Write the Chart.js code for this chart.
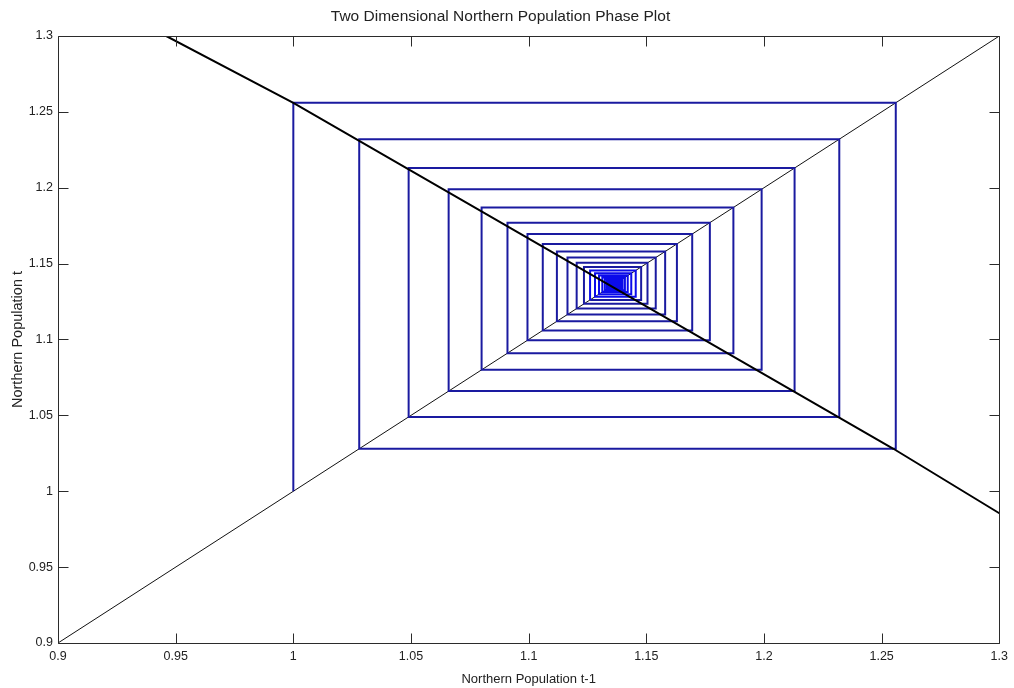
<!DOCTYPE html>
<html>
<head>
<meta charset="utf-8">
<title>Two Dimensional Northern Population Phase Plot</title>
<script src="https://cdn.jsdelivr.net/npm/chart.js@4.4.1/dist/chart.umd.min.js"></script>
<style>
  html, body { margin: 0; padding: 0; background: #fff; }
  #wrap { width: 1014px; height: 688px; }
</style>
</head>
<body>
<div id="wrap"><canvas id="phaseChart" width="1014" height="688"></canvas></div>
<script>
// Northern population at successive steps t = 0, 1, 2, ...
const northern = [
    1.000, 1.256, 1.028, 1.232, 1.049, 1.213, 1.066, 1.199, 1.080, 1.187,
    1.091, 1.177, 1.0995, 1.1695, 1.106, 1.163, 1.112, 1.158, 1.1165, 1.154,
    1.1204, 1.1505, 1.1235, 1.1478, 1.1261, 1.1455, 1.1282, 1.1436, 1.1299, 1.1421,
    1.1313, 1.1409, 1.1324, 1.1399, 1.1333, 1.1391, 1.1340, 1.1385, 1.1346, 1.1380,
    1.1350, 1.1376, 1.1353, 1.1373, 1.1355, 1.1370, 1.1357, 1.1368, 1.1358, 1.1366,
    1.1359, 1.1365, 1.1360, 1.1364
];

// Reproduction curve, N(t) against N(t-1)
const curveX = [0.946, 1.0, 1.255, 1.3];
const curveY = [1.3, 1.256, 1.028, 0.9855];

// Diagonal N(t) = N(t-1)
const diagX = [0.9, 1.3];

const tickValues = [0.9, 0.95, 1, 1.05, 1.1, 1.15, 1.2, 1.25, 1.3];
const tickLabels = ['0.9', '0.95', '1', '1.05', '1.1', '1.15', '1.2', '1.25', '1.3'];

const family = "'Liberation Sans', Arial, sans-serif";
const textColor = '#222';

// cobweb path: up to the curve, across to the diagonal, repeat
const cobweb = [{x: northern[0], y: northern[0]}];
for (let i = 0; i < northern.length - 1; i++) {
    cobweb.push({x: northern[i], y: northern[i + 1]});
    cobweb.push({x: northern[i + 1], y: northern[i + 1]});
}

// axes box with inward ticks on all four sides
const boxTicks = {
    id: 'boxTicks',
    afterDatasetsDraw(chart) {
        const {ctx, chartArea: a, scales: {x, y}} = chart;
        const L = Math.round(a.left) + 0.5, R = Math.round(a.right) + 0.5;
        const T = Math.round(a.top) + 0.5, B = Math.round(a.bottom) + 0.5;
        ctx.save();
        ctx.strokeStyle = '#2b2b2b';
        ctx.lineWidth = 1;
        ctx.beginPath();
        tickValues.forEach(v => {
            const px = Math.round(x.getPixelForValue(v)) + 0.5;
            ctx.moveTo(px, B); ctx.lineTo(px, B - 10);
            ctx.moveTo(px, T); ctx.lineTo(px, T + 10);
            const py = Math.round(y.getPixelForValue(v)) + 0.5;
            ctx.moveTo(L, py); ctx.lineTo(L + 10, py);
            ctx.moveTo(R, py); ctx.lineTo(R - 10, py);
        });
        ctx.rect(L, T, R - L, B - T);
        ctx.stroke();
        ctx.restore();
    }
};

function fixedTicks(scale) {
    scale.ticks = tickValues.map(v => ({value: v}));
}

new Chart(document.getElementById('phaseChart'), {
    type: 'scatter',
    data: {
        datasets: [
            {
                label: 'curve',
                data: curveX.map((x, i) => ({x: x, y: curveY[i]})),
                showLine: true,
                borderColor: '#000',
                borderWidth: 2,
                pointRadius: 0,
                order: 0
            },
            {
                label: 'cobweb',
                data: cobweb,
                showLine: true,
                borderColor: '#1a1aa0',
                borderWidth: 2,
                pointRadius: 0,
                // the tight inner turns blur together into a brighter blue
                segment: {
                    borderColor: c => (c.p0DataIndex >= 48 ? '#0b0bea' : undefined)
                },
                order: 1
            },
            {
                label: 'diagonal',
                data: diagX.map(x => ({x: x, y: x})),
                showLine: true,
                borderColor: '#111',
                borderWidth: 1,
                pointRadius: 0,
                order: 2
            }
        ]
    },
    options: {
        responsive: false,
        animation: false,
        layout: {padding: {left: 0, right: 13, top: 0, bottom: 0}},
        plugins: {
            legend: {display: false},
            tooltip: {enabled: false},
            title: {
                display: true,
                text: 'Two Dimensional Northern Population Phase Plot',
                color: textColor,
                font: {family: family, size: 15.5, weight: 'normal', lineHeight: 1.2},
                padding: {top: 7, bottom: 10.4}
            }
        },
        scales: {
            x: {
                type: 'linear',
                min: 0.9,
                max: 1.3,
                afterBuildTicks: fixedTicks,
                afterFit: s => { s.height = 45; },
                grid: {display: false, drawTicks: false},
                border: {display: false},
                ticks: {
                    autoSkip: false,
                    maxRotation: 0,
                    padding: 6,
                    color: textColor,
                    font: {family: family, size: 12.5},
                    callback: (v, i) => tickLabels[i]
                },
                title: {
                    display: true,
                    text: 'Northern Population t-1',
                    color: textColor,
                    font: {family: family, size: 13},
                    padding: {top: 0, bottom: 1}
                }
            },
            y: {
                type: 'linear',
                min: 0.9,
                max: 1.3,
                afterBuildTicks: fixedTicks,
                afterFit: s => { s.width = 58; },
                grid: {display: false, drawTicks: false},
                border: {display: false},
                ticks: {
                    autoSkip: false,
                    padding: 5,
                    color: textColor,
                    font: {family: family, size: 12.5},
                    callback: (v, i) => tickLabels[i]
                },
                title: {
                    display: true,
                    text: 'Northern Population t',
                    color: textColor,
                    font: {family: family, size: 14.5},
                    padding: {top: 9.5, bottom: 0}
                }
            }
        }
    },
    plugins: [boxTicks]
});
</script>
</body>
</html>
